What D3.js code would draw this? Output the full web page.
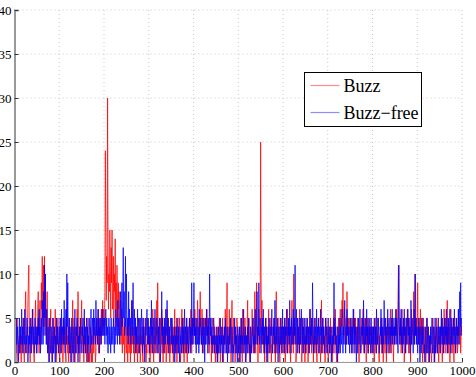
<!DOCTYPE html>
<html>
<head>
<meta charset="utf-8">
<script src="https://cdn.jsdelivr.net/npm/d3@7"></script>
<style>
  body { margin: 0; background: #fff; }
  svg { display: block; }
</style>
</head>
<body>
<svg id="chart" width="476" height="377"></svg>
<script>
// Buzz series in rows of 50 samples
const buzzRows = [
  [3,5,2,0,1,4,5,3,1,0,2,3,1,4,2,0,3,1,2,5,4,1,0,3,6,8,2,1,4,3,7,9,11,4,2,0,3,5,1,2,4,6,3,1,0,2,5,7,3,1],
  [4,2,6,8,3,1,5,7,2,4,9,6,12,5,8,11,4,12,7,10,3,6,2,8,4,1,3,5,0,2,4,6,1,3,2,0,5,3,1,4,2,6,3,0,1,4,2,5,3,1],
  [2,0,3,5,1,4,2,3,0,1,5,2,4,3,1,0,6,2,3,1,4,0,2,5,3,1,2,4,0,3,7,2,1,5,3,0,2,4,1,3,6,2,8,3,1,4,0,2,5,3],
  [7,2,4,1,3,0,5,2,1,3,4,0,2,1,5,3,0,1,0,2,4,1,0,3,0,2,5,1,3,4,2,0,1,4,5,3,2,6,1,4,3,5,2,4,6,3,5,7,4,6],
  [3,5,8,24,16,7,12,9,30,14,6,10,8,15,11,5,13,9,15,6,7,12,4,10,8,14,6,9,5,11,7,4,9,6,8,3,5,7,2,6,4,1,5,3,2,4,0,3,5,2],
  [1,4,2,0,3,5,1,2,4,0,3,1,5,7,2,4,1,3,0,2,5,3,1,4,2,0,3,1,2,5,4,0,1,3,2,4,1,0,3,5,2,1,4,3,0,2,1,5,3,2],
  [4,1,3,0,2,5,3,1,4,6,2,0,3,1,5,2,4,3,7,1,9,3,2,4,0,1,5,3,2,6,1,4,0,3,2,5,1,3,4,0,2,6,3,1,5,2,4,0,3,1],
  [2,5,3,1,4,0,2,3,6,1,4,2,5,0,3,1,2,4,3,5,1,0,2,4,6,3,1,5,2,0,3,4,1,2,5,3,0,4,2,1,3,5,4,2,6,3,1,4,2,5],
  [4,5,3,6,4,2,5,3,4,7,5,4,2,5,3,8,4,5,2,6,4,3,5,1,4,5,3,2,5,4,6,3,5,2,4,1,3,5,4,2,0,3,5,4,2,3,1,4,2,0],
  [3,1,2,0,4,2,1,3,5,2,0,1,4,3,2,5,1,0,3,4,2,6,3,1,5,9,2,4,3,1,6,2,5,3,0,4,7,2,1,3,5,2,4,0,3,1,2,5,4,2],
  [1,3,0,2,4,1,5,3,2,0,6,1,3,4,2,5,0,1,3,2,4,7,1,3,5,2,0,4,3,1,2,6,3,5,1,4,2,8,3,1,5,9,2,4,0,3,6,2,1,4],
  [25,10,4,7,2,5,3,1,4,0,2,3,5,1,4,2,0,3,6,1,2,4,3,5,0,2,1,3,4,2,5,1,3,0,4,8,2,1,3,5,2,4,1,0,3,2,5,1,4,3],
  [2,4,1,3,5,0,2,4,3,1,6,2,5,3,1,4,2,0,3,5,7,2,4,1,10,3,5,2,4,0,1,3,5,2,4,3,1,6,2,4,5,3,0,2,4,1,3,5,2,0],
  [3,1,4,2,5,3,0,2,4,1,3,6,2,4,1,5,3,2,0,4,1,3,2,5,4,1,0,3,2,4,5,1,3,2,0,4,7,1,3,5,2,4,1,3,0,2,5,3,1,4],
  [2,0,1,3,4,2,5,1,3,4,0,2,3,5,1,4,2,6,3,1,0,2,4,3,5,1,2,4,6,3,5,4,7,5,9,4,3,6,5,2,4,5,3,8,4,5,2,3,5,4],
  [3,5,2,4,1,3,5,4,6,2,4,3,5,1,4,2,3,5,4,2,0,3,4,1,2,5,3,4,2,6,3,1,4,5,2,3,0,4,2,5,3,1,4,2,5,3,4,1,2,4],
  [3,1,4,2,0,3,5,2,4,1,3,2,5,4,1,0,3,2,4,5,3,1,2,4,0,3,5,2,1,4,3,0,2,5,3,4,1,2,4,3,6,2,1,4,3,5,2,0,3,4],
  [2,4,5,3,6,4,2,7,11,5,3,4,2,5,1,3,6,2,4,3,5,0,2,4,1,3,5,2,6,4,3,1,5,2,4,0,3,6,2,4,5,3,8,2,4,6,10,3,5,2],
  [4,9,3,5,2,4,1,6,3,5,2,4,0,3,5,1,2,4,3,0,2,5,1,3,4,2,0,1,3,2,4,1,0,2,3,5,1,2,4,0,3,1,2,5,3,1,4,2,0,3],
  [2,4,1,3,5,2,0,3,4,1,6,2,3,5,1,4,2,7,3,1,5,2,4,0,3,6,2,4,1,3,5,2,0,4,3,1,2,5,3,4,1,2,6,3,4,2,5,1,3,4]
];

// Buzz-free series
const freeRows = [
  [2,4,3,1,5,2,3,4,0,2,3,5,1,4,2,3,6,2,4,1,3,5,2,6,4,1,3,2,5,4,0,3,1,4,2,5,3,1,4,2,6,3,2,4,1,3,5,2,4,3],
  [1,4,2,5,3,6,2,4,1,3,5,2,7,4,2,8,3,11,5,10,4,2,6,3,1,4,2,0,3,5,2,1,4,3,0,2,5,1,3,4,2,0,3,1,5,2,4,3,1,2],
  [4,2,5,3,1,6,2,4,3,5,2,7,3,1,4,6,2,10,4,9,3,2,5,1,4,3,0,2,5,3,1,4,2,0,3,6,2,1,4,3,5,2,0,3,1,4,2,5,3,1],
  [2,4,3,5,1,3,6,2,4,1,3,5,2,4,0,3,2,5,3,1,4,6,2,3,5,4,2,6,3,5,4,2,7,3,5,4,2,6,3,5,1,4,3,5,2,4,6,3,5,4],
  [3,5,2,4,6,3,5,2,4,1,3,5,2,4,3,1,5,2,4,3,2,5,3,1,4,2,6,3,5,4,2,7,3,5,4,2,6,8,3,5,9,4,7,13,5,8,3,6,12,4],
  [10,6,3,5,2,8,4,6,3,5,2,4,7,3,5,9,4,2,6,3,5,1,4,2,3,6,2,5,4,1,3,5,2,4,6,3,1,5,2,4,3,0,2,5,3,4,6,2,3,5],
  [2,4,1,3,5,2,7,3,4,1,5,3,2,4,6,3,1,2,5,4,3,1,4,2,5,3,0,2,4,8,3,5,2,4,1,3,5,2,6,3,4,7,2,5,3,1,4,2,3,5],
  [4,2,5,3,1,3,2,4,0,2,3,1,4,2,3,5,1,4,2,0,3,2,4,1,3,5,2,4,1,3,6,2,4,3,1,5,2,3,4,1,2,5,3,1,4,2,9,3,5,2],
  [4,9,3,5,2,4,1,3,5,2,4,3,1,6,2,4,5,3,2,4,1,5,3,2,4,0,3,5,2,6,3,4,1,5,3,2,10,4,3,5,2,4,1,3,2,5,4,1,3,2],
  [2,4,1,3,0,2,4,1,3,2,5,1,3,2,4,0,2,3,1,4,2,5,3,1,2,4,0,3,2,1,4,2,3,5,1,2,4,3,0,2,1,3,5,2,4,1,3,2,0,4],
  [3,1,2,4,0,3,2,5,1,3,2,4,6,1,3,2,4,0,2,3,1,4,2,5,3,1,2,0,4,3,1,2,4,5,2,3,1,4,6,2,3,5,8,2,4,3,9,4,2,5],
  [3,1,4,2,5,3,6,2,4,1,3,5,2,4,0,3,1,4,2,5,3,1,2,4,3,6,2,1,4,3,5,2,7,3,1,4,2,5,3,0,2,4,1,3,5,2,4,3,1,6],
  [2,4,3,1,5,2,4,3,6,2,1,4,3,5,2,7,3,4,1,5,2,3,4,6,2,5,3,11,4,2,6,3,1,5,2,4,3,1,5,2,4,6,3,2,5,1,4,3,2,5],
  [3,1,4,2,5,3,2,4,1,3,6,2,4,3,5,2,9,4,1,3,5,2,4,3,1,6,2,4,3,5,1,2,4,3,6,2,4,1,3,5,2,4,3,1,2,5,3,4,2,1],
  [3,5,2,4,1,3,2,4,0,2,3,1,4,2,9,3,5,2,4,1,3,2,0,4,1,3,2,5,1,4,3,2,6,3,1,4,2,5,7,3,1,4,2,6,3,5,2,4,3,1],
  [4,2,5,3,1,4,2,6,3,1,5,2,4,3,0,2,4,1,3,5,2,4,6,3,1,2,4,3,5,2,7,3,1,4,2,5,3,6,2,4,1,3,5,2,4,3,1,5,2,4],
  [3,1,4,2,5,3,2,4,1,6,3,2,4,5,3,1,2,4,3,6,2,5,1,4,3,2,7,4,3,5,2,4,1,3,6,2,4,5,3,1,4,2,5,3,6,2,4,3,5,2],
  [4,3,6,2,5,4,3,1,7,11,4,2,5,3,6,2,4,1,3,5,2,6,3,4,1,5,3,2,4,6,3,5,2,4,1,3,7,2,5,4,3,1,4,6,2,10,3,5,2,4],
  [3,1,4,2,5,3,0,2,4,1,3,5,2,4,3,1,2,0,4,3,1,2,5,3,1,4,2,0,3,1,4,2,3,5,1,2,4,3,0,2,5,1,3,4,2,1,3,5,2,4],
  [3,1,4,2,6,3,5,2,4,1,3,5,2,4,3,6,2,4,1,5,3,2,4,6,3,1,5,2,4,3,2,5,3,6,2,4,1,3,5,2,4,3,6,2,5,8,4,9,3,5]
];

const xTicks = [0, 100, 200, 300, 400, 500, 600, 700, 800, 900, 1000];
const yTicks = [0, 5, 10, 15, 20, 25, 30, 35, 40];
const seriesNames = ['Buzz', 'Buzz\u2212free'];
const seriesColors = ['#ff0000', '#0000ff'];

const buzz = buzzRows.flat();
const buzzFree = freeRows.flat();

const svg = d3.select('#chart');
const margin = { top: 10, right: 14, bottom: 15, left: 14.5 };
const width = 476 - margin.left - margin.right;
const height = 377 - margin.top - margin.bottom;

const x = d3.scaleLinear().domain([0, 1000]).range([0, width]);
const y = d3.scaleLinear().domain([0, 40]).range([height, 0]);

const g = svg.append('g')
  .attr('transform', `translate(${margin.left},${margin.top})`);

// dotted grid
g.append('g')
  .selectAll('line')
  .data(xTicks)
  .join('line')
  .attr('x1', d => x(d)).attr('x2', d => x(d))
  .attr('y1', 0).attr('y2', height)
  .attr('stroke', '#c8c8c8')
  .attr('stroke-dasharray', '1,3');

g.append('g')
  .selectAll('line')
  .data(yTicks)
  .join('line')
  .attr('x1', 0).attr('x2', width)
  .attr('y1', d => y(d)).attr('y2', d => y(d))
  .attr('stroke', '#c8c8c8')
  .attr('stroke-dasharray', '1,3');

const line = d3.line()
  .x((d, i) => x(i))
  .y(d => y(d));

[buzz, buzzFree].forEach((data, k) => {
  g.append('path')
    .datum(data)
    .attr('fill', 'none')
    .attr('stroke', seriesColors[k])
    .attr('stroke-opacity', 0.85)
    .attr('stroke-width', 0.9)
    .attr('d', line);
});

// axes
const xAxis = g.append('g')
  .attr('transform', `translate(0,${height})`)
  .call(d3.axisBottom(x).tickValues(xTicks).tickFormat(d3.format('d')).tickSize(-4).tickPadding(4));
const yAxis = g.append('g')
  .call(d3.axisLeft(y).tickValues(yTicks).tickFormat(d3.format('d')).tickSize(-4).tickPadding(3));

[xAxis, yAxis].forEach(a => {
  a.select('.domain').attr('stroke', '#999').attr('stroke-width', 1);
  a.selectAll('.tick line').attr('stroke', '#333');
  a.selectAll('.tick text')
    .attr('font-family', '"Liberation Serif", serif')
    .attr('font-size', 13)
    .attr('fill', '#000');
});
yAxis.select('.domain').attr('stroke-width', 2);

// legend
const legend = svg.append('g').attr('transform', 'translate(304.5,72.5)');
legend.append('rect')
  .attr('width', 117).attr('height', 54)
  .attr('fill', '#fff').attr('stroke', '#000').attr('stroke-width', 1);

seriesNames.forEach((name, k) => {
  const ly = 13 + k * 27;
  legend.append('line')
    .attr('x1', 6).attr('x2', 35)
    .attr('y1', ly).attr('y2', ly)
    .attr('stroke', seriesColors[k])
    .attr('stroke-opacity', 0.45)
    .attr('stroke-width', 1.2);
  legend.append('text')
    .attr('x', 39).attr('y', ly + 6)
    .attr('font-family', '"Liberation Serif", serif')
    .attr('font-size', 18)
    .text(name);
});
</script>
</body>
</html>
